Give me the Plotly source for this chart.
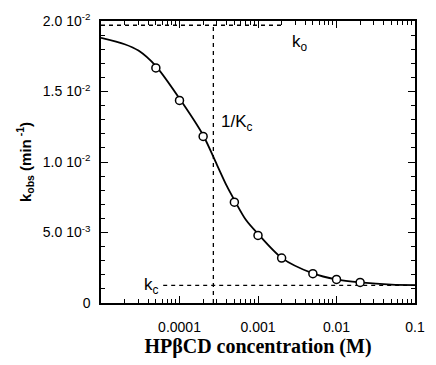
import plotly.graph_objects as go

# Data
conc_pts = [5e-5, 1e-4, 2e-4, 5e-4, 1e-3, 2e-3, 5e-3, 1e-2, 2e-2]
kobs_pts = [0.01667, 0.01437, 0.01181, 0.00715, 0.00479, 0.00319, 0.00208, 0.00167, 0.00146]

conc_fit = [1e-5, 2e-5, 3e-5, 5e-5, 1e-4, 2e-4, 3e-4, 4e-4, 5e-4, 7e-4, 1e-3, 2e-3, 5e-3, 1e-2, 2e-2, 5e-2, 1e-1]
kobs_fit = [0.0188, 0.01835, 0.0179, 0.0168, 0.0145, 0.0119, 0.0098, 0.0083, 0.0073, 0.0059, 0.0049, 0.0032, 0.0021, 0.00167, 0.00146, 0.0013, 0.00127]

k_o = 0.0197
k_c = 0.00125
inv_Kc = 2.7e-4
ko_line_x = [1e-5, 2.1e-3]
kc_line_x = [6.2e-5, 1e-1]

y_tickvals = [0, 0.005, 0.01, 0.015, 0.02]
y_ticktext = ["0", "5.0 10<sup>-3</sup>", "1.0 10<sup>-2</sup>", "1.5 10<sup>-2</sup>", "2.0 10<sup>-2</sup>"]
x_tickvals = [1e-4, 1e-3, 1e-2, 1e-1]
x_ticktext = ["0.0001", "0.001", "0.01", "0.1"]

fig = go.Figure()
dash_style = dict(color="black", width=1.3, dash="4px,4px")
fig.add_trace(go.Scatter(x=ko_line_x, y=[k_o, k_o], mode="lines", line=dash_style, hoverinfo="skip"))
fig.add_trace(go.Scatter(x=kc_line_x, y=[k_c, k_c], mode="lines", line=dash_style, hoverinfo="skip"))
fig.add_trace(go.Scatter(x=[inv_Kc, inv_Kc], y=[0, k_o], mode="lines", line=dash_style, hoverinfo="skip"))
fig.add_trace(go.Scatter(x=conc_fit, y=kobs_fit, mode="lines", line=dict(color="black", width=1.8, shape="spline", smoothing=0.8)))
fig.add_trace(go.Scatter(x=conc_pts, y=kobs_pts, mode="markers",
                         marker=dict(symbol="circle", size=8, color="white", line=dict(color="black", width=1.5))))

ann_font = dict(family="Liberation Sans", size=17, color="black")
fig.add_annotation(x=-2.47, y=0.01845, xref="x", yref="y", text="k<sub>o</sub>", showarrow=False, font=ann_font)
fig.add_annotation(x=-3.27, y=0.01275, xref="x", yref="y", text="1/K<sub>c</sub>", showarrow=False, font=ann_font)
fig.add_annotation(x=-4.36, y=0.00118, xref="x", yref="y", text="k<sub>c</sub>", showarrow=False, font=ann_font)

fig.update_layout(
    width=436, height=365,
    margin=dict(l=101, r=11, t=19, b=58),
    plot_bgcolor="white", paper_bgcolor="white",
    showlegend=False,
    font=dict(family="Liberation Sans", size=14, color="black"),
)
fig.update_xaxes(
    type="log", range=[-5, -1],
    tickvals=x_tickvals, ticktext=x_ticktext,
    ticks="inside", ticklen=7, tickwidth=1, tickcolor="black",
    minor=dict(ticks="inside", ticklen=4, tickcolor="black", dtick="D1", showgrid=False),
    showline=True, linecolor="black", linewidth=1.5, mirror="allticks",
    showgrid=False, zeroline=False,
    tickfont=dict(family="Liberation Sans", size=14),
    ticklabelstandoff=10,
    title=dict(text="<b>HPβCD concentration (M)</b>",
               font=dict(family="'Liberation Serif', 'DejaVu Serif', 'Times New Roman', serif", size=20), standoff=5),
)
fig.update_yaxes(
    range=[0, 0.02],
    tickvals=y_tickvals, ticktext=y_ticktext,
    ticks="inside", ticklen=7, tickwidth=1, tickcolor="black",
    minor=dict(ticks="inside", ticklen=4, tickcolor="black", dtick=0.001, showgrid=False),
    showline=True, linecolor="black", linewidth=1.5, mirror="allticks",
    showgrid=False, zeroline=False,
    tickfont=dict(family="Liberation Sans", size=14),
    ticklabelstandoff=6,
    title=dict(text="<b>k<sub>obs</sub> (min<sup> -1</sup>)</b>", font=dict(family="Liberation Sans", size=15), standoff=8),
)
fig.write_html("out.html")
